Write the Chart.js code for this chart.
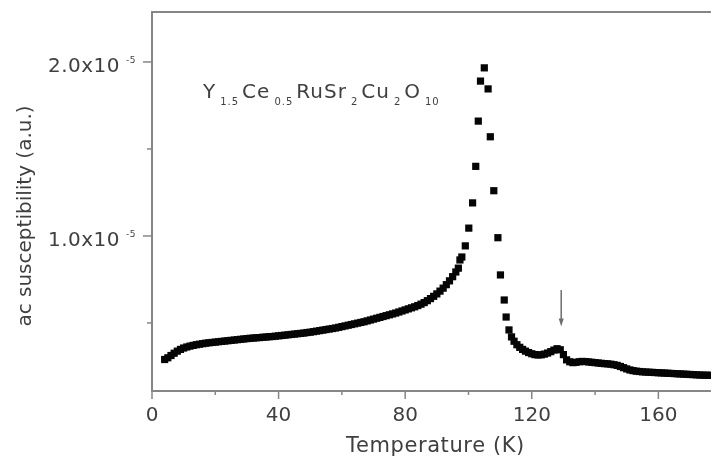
<!DOCTYPE html>
<html>
<head>
<meta charset="utf-8">
<title>ac susceptibility vs temperature</title>
<script src="https://cdn.jsdelivr.net/npm/chart.js@4.4.0/dist/chart.umd.min.js"></script>
<style>
  html, body { margin: 0; padding: 0; background: #fff; }
  #chart { display: block; }
</style>
</head>
<body>
<canvas id="chart" width="716" height="462"></canvas>
<script>
// Temperature (K)
const temps = [
    4, 5, 6, 7, 8, 9, 10, 11, 12, 13, 14, 15, 16, 17, 18, 19, 20, 21, 22, 23,
    24, 25, 26, 27, 28, 29, 30, 31, 32, 33, 34, 35, 36, 37, 38, 39, 40, 41, 42, 43,
    44, 45, 46, 47, 48, 49, 50, 51, 52, 53, 54, 55, 56, 57, 58, 59, 60, 61, 62, 63,
    64, 65, 66, 67, 68, 69, 70, 71, 72, 73, 74, 75, 76, 77, 78, 79, 80, 81, 82, 83,
    84, 85, 86, 87, 88, 89, 90, 91, 92, 93, 94, 95, 96,
    96.8, 97.3, 97.9, 99.0, 100.1, 101.3, 102.3, 103.1, 103.8, 105.0,
    106.2, 106.9, 108.0, 109.3, 110.1, 111.3, 111.9, 112.8, 113.6, 114.4,
    115.3, 116.2, 117.1, 118, 119, 120, 121, 122, 123, 124, 125, 126, 127, 128,
    129, 130, 131, 132, 133, 134, 135, 136, 137, 138, 139, 140, 141, 142, 143,
    144, 145, 146, 147, 148, 149, 150, 151, 152, 153, 154, 155, 156, 157, 158,
    159, 160, 161, 162, 163, 164, 165, 166, 167, 168, 169, 170, 171, 172, 173,
    174, 175, 176, 177
];

// ac susceptibility, in units of 1e-5 (a.u.)
const chi = [
    0.290, 0.300, 0.313, 0.326, 0.338, 0.348, 0.356, 0.362, 0.367, 0.371,
    0.375, 0.378, 0.381, 0.384, 0.386, 0.388, 0.390, 0.392, 0.394, 0.396,
    0.398, 0.400, 0.402, 0.404, 0.406, 0.408, 0.410, 0.412, 0.413, 0.415,
    0.416, 0.418, 0.419, 0.421, 0.422, 0.424, 0.426, 0.428, 0.430, 0.432,
    0.434, 0.436, 0.438, 0.440, 0.442, 0.445, 0.447, 0.450, 0.453, 0.456,
    0.459, 0.462, 0.465, 0.468, 0.471, 0.475, 0.479, 0.483, 0.487, 0.491,
    0.495, 0.499, 0.503, 0.507, 0.512, 0.517, 0.522, 0.527, 0.532, 0.537,
    0.542, 0.547, 0.552, 0.557, 0.563, 0.569, 0.575, 0.581, 0.587, 0.593,
    0.600, 0.608, 0.617, 0.628, 0.640, 0.653, 0.667, 0.683, 0.700, 0.720,
    0.742, 0.766, 0.793,
    0.815, 0.862, 0.879, 0.943, 1.045, 1.19, 1.40, 1.66, 1.89, 1.966,
    1.845, 1.57, 1.26, 0.99, 0.776, 0.632, 0.534, 0.460, 0.420, 0.395,
    0.375, 0.360, 0.348, 0.338, 0.330, 0.323, 0.318, 0.316, 0.317, 0.321,
    0.327, 0.335, 0.344, 0.352, 0.346, 0.318, 0.288, 0.277, 0.272, 0.274,
    0.277, 0.279, 0.278, 0.276, 0.274, 0.272, 0.270, 0.268, 0.266, 0.265,
    0.263, 0.260, 0.256, 0.250, 0.243, 0.236, 0.230, 0.226, 0.223, 0.221,
    0.219, 0.218, 0.217, 0.216, 0.215, 0.214, 0.213, 0.212, 0.211, 0.210,
    0.209, 0.208, 0.207, 0.206, 0.205, 0.204, 0.203, 0.202, 0.201, 0.200,
    0.200, 0.199, 0.199, 0.198
];

const xTicks = [0, 20, 40, 60, 80, 100, 120, 140, 160];
const yTicks = [0.5, 1.0, 1.5, 2.0];

// compound label, [text, isSubscript]
const formula = [
    ['Y', false], ['1.5', true], ['Ce', false], ['0.5', true], ['RuSr', false],
    ['2', true], ['Cu', false], ['2', true], ['O', false], ['10', true]
];

// arrow marking the small anomaly (temperature, start and end in 1e-5 units)
const arrowT = 129.3;
const arrowFrom = 0.69;
const arrowTo = 0.48;

const FONT = '"DejaVu Sans", sans-serif';
const TEXT = '#3f3f3f';
const AXIS = '#868686';

const decorPlugin = {
    id: 'decor',
    afterDraw(chart) {
        const { ctx, chartArea: area, scales: { x, y } } = chart;
        ctx.save();

        // frame: left, bottom and top edges
        ctx.strokeStyle = AXIS;
        ctx.lineWidth = 2;
        ctx.beginPath();
        ctx.moveTo(area.right, area.top);
        ctx.lineTo(area.left, area.top);
        ctx.lineTo(area.left, area.bottom);
        ctx.lineTo(area.right, area.bottom);
        ctx.stroke();

        // tick marks
        ctx.lineWidth = 1.5;
        xTicks.forEach(t => {
            const px = x.getPixelForValue(t);
            const len = t % 40 === 0 ? 8 : 4;
            ctx.beginPath();
            ctx.moveTo(px, area.bottom);
            ctx.lineTo(px, area.bottom + len);
            ctx.stroke();
        });
        yTicks.forEach(v => {
            const py = y.getPixelForValue(v);
            const len = Number.isInteger(v) ? 9 : 5;
            ctx.beginPath();
            ctx.moveTo(area.left, py);
            ctx.lineTo(area.left - len, py);
            ctx.stroke();
        });

        // tick labels
        ctx.fillStyle = TEXT;
        ctx.font = '20px ' + FONT;
        ctx.textBaseline = 'alphabetic';
        ctx.textAlign = 'center';
        xTicks.filter(t => t % 40 === 0).forEach(t => {
            ctx.fillText(String(t), x.getPixelForValue(t), area.bottom + 30);
        });

        ctx.letterSpacing = '0.5px';
        yTicks.filter(v => Number.isInteger(v)).forEach(v => {
            const py = y.getPixelForValue(v);
            ctx.font = '20px ' + FONT;
            ctx.textAlign = 'right';
            ctx.fillText(v.toFixed(1) + 'x10', area.left - 32, py + 10.5);
            ctx.font = '9px ' + FONT;
            ctx.textAlign = 'left';
            ctx.fillText('-5', area.left - 26, py + 1);
        });

        // axis titles
        ctx.font = '21px ' + FONT;
        ctx.letterSpacing = '0.6px';
        ctx.textAlign = 'center';
        ctx.fillText('Temperature (K)', (area.left + area.right) / 2 + 4, area.bottom + 61);

        ctx.font = '20px ' + FONT;
        ctx.letterSpacing = '0px';
        ctx.translate(31, 216);
        ctx.rotate(-Math.PI / 2);
        ctx.fillText('ac susceptibility (a.u.)', 0, 0);
        ctx.setTransform(1, 0, 0, 1, 0, 0);

        // compound formula with subscripts
        let cx = area.left + 51;
        const base = area.top + 86;
        ctx.textAlign = 'left';
        formula.forEach(([txt, sub]) => {
            if (sub) {
                ctx.font = '10px ' + FONT;
                ctx.letterSpacing = '1px';
                cx += 4;
                ctx.fillText(txt, cx, base + 7);
                cx += ctx.measureText(txt).width + 3;
            } else {
                ctx.font = '20px ' + FONT;
                ctx.letterSpacing = '1px';
                ctx.fillText(txt, cx, base);
                cx += ctx.measureText(txt).width;
            }
        });
        ctx.letterSpacing = '0px';

        // arrow pointing down at the anomaly
        const ax = x.getPixelForValue(arrowT);
        const ay1 = y.getPixelForValue(arrowFrom);
        const ay2 = y.getPixelForValue(arrowTo);
        ctx.strokeStyle = '#6e6e6e';
        ctx.fillStyle = '#6e6e6e';
        ctx.lineWidth = 1.5;
        ctx.beginPath();
        ctx.moveTo(ax, ay1);
        ctx.lineTo(ax, ay2 - 6);
        ctx.stroke();
        ctx.beginPath();
        ctx.moveTo(ax - 2.5, ay2 - 8);
        ctx.lineTo(ax + 2.5, ay2 - 8);
        ctx.lineTo(ax, ay2);
        ctx.closePath();
        ctx.fill();

        ctx.restore();
    }
};

document.addEventListener('DOMContentLoaded', function() {
    const ctx = document.getElementById('chart').getContext('2d');
    new Chart(ctx, {
        type: 'scatter',
        data: {
            datasets: [{
                label: 'chi',
                data: temps.map((t, i) => ({ x: t, y: chi[i] })),
                pointStyle: 'rect',
                pointRadius: 5.1,
                borderWidth: 0,
                backgroundColor: '#050505',
                showLine: false
            }]
        },
        options: {
            responsive: false,
            animation: false,
            devicePixelRatio: 1,
            layout: { padding: { top: 12, right: 0, bottom: 0, left: 0 } },
            plugins: {
                legend: { display: false },
                tooltip: { enabled: false }
            },
            scales: {
                x: {
                    type: 'linear',
                    min: 0,
                    max: 176.6,
                    grid: { display: false },
                    border: { display: false },
                    ticks: { display: false, includeBounds: false },
                    afterFit: scale => { scale.height = 71; }
                },
                y: {
                    type: 'linear',
                    min: 0.109,
                    max: 2.287,
                    grid: { display: false },
                    border: { display: false },
                    ticks: { display: false, includeBounds: false },
                    afterFit: scale => { scale.width = 152; }
                }
            }
        },
        plugins: [decorPlugin]
    });
});
</script>
</body>
</html>
